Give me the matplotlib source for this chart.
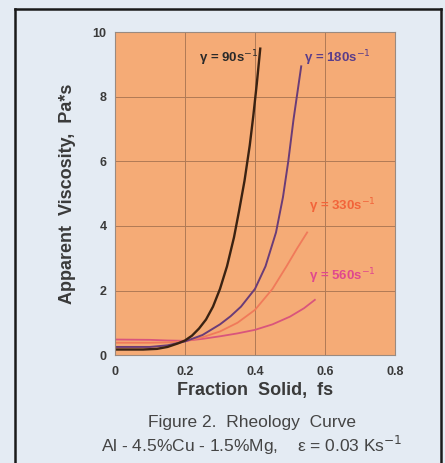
import matplotlib
matplotlib.use("Agg")
import matplotlib.pyplot as plt
from matplotlib.lines import Line2D

plt.rcParams['font.family'] = ['Liberation Sans', 'DejaVu Sans']

# Data
x_90 = [0, 0.08, 0.12, 0.15, 0.18, 0.20, 0.22, 0.24, 0.26, 0.28, 0.30, 0.32, 0.34, 0.355, 0.37, 0.385, 0.395, 0.405, 0.415]
y_90 = [0.17, 0.17, 0.19, 0.25, 0.36, 0.45, 0.60, 0.82, 1.10, 1.50, 2.05, 2.75, 3.65, 4.5, 5.4, 6.5, 7.4, 8.4, 9.5]

x_180 = [0, 0.10, 0.15, 0.20, 0.25, 0.30, 0.33, 0.36, 0.40, 0.43, 0.46, 0.48, 0.495, 0.51, 0.522, 0.532]
y_180 = [0.25, 0.25, 0.30, 0.42, 0.62, 0.95, 1.20, 1.50, 2.05, 2.75, 3.8, 4.9, 6.0, 7.3, 8.2, 8.95]

x_330 = [0, 0.10, 0.15, 0.20, 0.25, 0.30, 0.35, 0.40, 0.45, 0.49, 0.52, 0.549]
y_330 = [0.38, 0.38, 0.39, 0.43, 0.55, 0.73, 1.0, 1.4, 2.05, 2.75, 3.3, 3.8]

x_560 = [0, 0.10, 0.15, 0.20, 0.25, 0.30, 0.35, 0.40, 0.45, 0.50, 0.54, 0.571]
y_560 = [0.48, 0.47, 0.45, 0.44, 0.50, 0.58, 0.67, 0.78, 0.95, 1.19, 1.45, 1.71]

x_ticks = [0, 0.2, 0.4, 0.6, 0.8]
x_ticklabels = ['0', '0.2', '0.4', '0.6', '0.8']
y_ticks = [0, 2, 4, 6, 8, 10]
y_ticklabels = ['0', '2', '4', '6', '8', '10']

W, H = 445, 463
fig = plt.figure(figsize=(W / 100, H / 100), dpi=100)
fig.patch.set_facecolor('#e4ebf3')

ax = fig.add_axes([115 / W, (H - 355) / H, 280 / W, (355 - 32.5) / H])
ax.set_facecolor('#f5ab76')
ax.set_xlim(0, 0.8)
ax.set_ylim(0, 10)
ax.set_xticks(x_ticks)
ax.set_xticklabels(x_ticklabels)
ax.set_yticks(y_ticks)
ax.set_yticklabels(y_ticklabels)
ax.grid(True, color='#b07a55', linewidth=0.7)
ax.set_axisbelow(True)
ax.tick_params(length=0, labelsize=9, colors='#3a3a3a', pad=6)
ax.tick_params(axis='x', pad=8)
for lab in ax.get_xticklabels() + ax.get_yticklabels():
    lab.set_fontweight('bold')
for s in ax.spines.values():
    s.set_color('#9a8a80')
    s.set_linewidth(0.8)

ax.plot(x_560, y_560, color='#d9557c', lw=1.3)
ax.plot(x_330, y_330, color='#f07a5a', lw=1.3)
ax.plot(x_180, y_180, color='#6a3c78', lw=1.4)
ax.plot(x_90, y_90, color='#3a2212', lw=1.7)

ax.text(0.41, 9.2, 'γ = 90s$^{-1}$', color='#2a2a2a', fontsize=9.5, fontweight='bold', ha='right', va='center')
ax.text(0.54, 9.2, 'γ = 180s$^{-1}$', color='#5a3d8a', fontsize=9.5, fontweight='bold', ha='left', va='center')
ax.text(0.555, 4.6, 'γ = 330s$^{-1}$', color='#f2643a', fontsize=9.5, fontweight='bold', ha='left', va='center')
ax.text(0.555, 2.45, 'γ = 560s$^{-1}$', color='#e0488e', fontsize=9.5, fontweight='bold', ha='left', va='center')

ax.set_xlabel('Fraction  Solid,  fs', fontsize=13, fontweight='bold', color='#3a3a3a', labelpad=3)
ax.set_ylabel('Apparent  Viscosity,  Pa*s', fontsize=13, fontweight='bold', color='#3a3a3a', labelpad=12)

fig.text(252 / W, 1 - 422 / H, 'Figure 2.  Rheology  Curve', fontsize=12.5, color='#444444', ha='center', va='center')
fig.text(252 / W, 1 - 445 / H, 'Al - 4.5%Cu - 1.5%Mg,    ε = 0.03 Ks$^{-1}$', fontsize=12.5, color='#444444', ha='center', va='center')

# frame around figure (left, top, right)
fig.add_artist(Line2D([15.5 / W, 15.5 / W], [0, 1 - 9 / H], transform=fig.transFigure, color='#1a1a1a', lw=1.8))
fig.add_artist(Line2D([15.5 / W, 441 / W], [1 - 9 / H, 1 - 9 / H], transform=fig.transFigure, color='#1a1a1a', lw=1.8))
fig.add_artist(Line2D([441 / W, 441 / W], [0, 1 - 9 / H], transform=fig.transFigure, color='#1a1a1a', lw=1.8))

fig.savefig('out.png', dpi=100, facecolor=fig.get_facecolor())
